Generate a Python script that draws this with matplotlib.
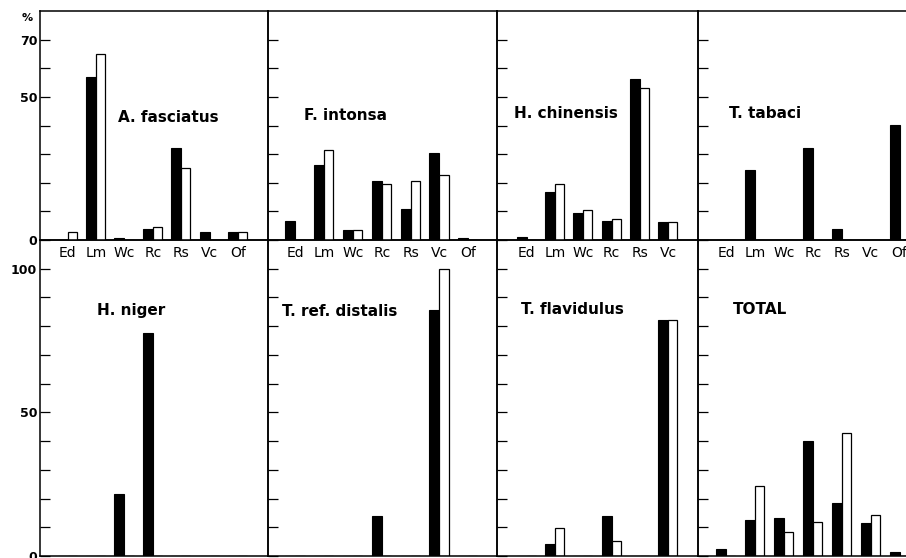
import matplotlib.pyplot as plt

# categories
cats7 = ['Ed', 'Lm', 'Wc', 'Rc', 'Rs', 'Vc', 'Of']
cats6 = cats7[:6]

# top row (%, 0-80)
fasciatus_black = [0, 56.9, 0.8, 3.9, 32.2, 2.7, 2.7]
fasciatus_white = [2.7, 65.0, 0, 4.6, 25.0, 0, 2.7]
intonsa_black = [6.5, 26.1, 3.5, 20.6, 10.7, 30.5, 0.7]
intonsa_white = [0, 31.3, 3.5, 19.6, 20.7, 22.6, 0]
chinensis_black = [1.2, 16.7, 9.5, 6.5, 56.3, 6.4]
chinensis_white = [0, 19.7, 10.4, 7.4, 53.2, 6.2]
tabaci_black = [0, 24.4, 0, 32.2, 3.8, 0, 40.1]
tabaci_white = [0, 0, 0, 0, 0, 0, 0]

# bottom row (%, 0-110)
niger_black = [0, 0, 21.6, 77.7, 0, 0, 0]
niger_white = [0, 0, 0, 0, 0, 0, 0]
distalis_black = [0, 0, 0, 14.0, 0, 85.8, 0]
distalis_white = [0, 0, 0, 0, 0, 100, 0]
flavidulus_black = [0, 4.1, 0, 14.0, 0, 82.0]
flavidulus_white = [0, 9.7, 0, 5.2, 0, 82.3]
total_black = [2.4, 12.6, 13.1, 40.1, 18.4, 11.4, 1.5]
total_white = [0, 24.2, 8.3, 11.7, 42.8, 14.3, 0]

W, H = 906, 558
fig = plt.figure(figsize=(W / 100, H / 100), dpi=100)

# column geometry in pixels: left, width, xlim
cols = [(40, 228, (-0.97, 7.05)),
        (268, 229, (-0.95, 7.0)),
        (497, 201, (-1.05, 6.05)),
        (698, 232, (-0.97, 7.05))]
rows = [(11, 240, 80), (240, 556, 110)]  # top px, bottom px, ymax

panels = [
    [(cats7, fasciatus_black, fasciatus_white, 'A. fasciatus', (118, 117)),
     (cats7, intonsa_black, intonsa_white, 'F. intonsa', (304, 116)),
     (cats6, chinensis_black, chinensis_white, 'H. chinensis', (514, 113)),
     (cats7, tabaci_black, tabaci_white, 'T. tabaci', (729, 113))],
    [(cats7, niger_black, niger_white, 'H. niger', (97, 311)),
     (cats7, distalis_black, distalis_white, 'T. ref. distalis', (282, 311)),
     (cats6, flavidulus_black, flavidulus_white, 'T. flavidulus', (521, 310)),
     (cats7, total_black, total_white, 'TOTAL', (733, 310))],
]

bw = 0.35
for r, (top, bot, ymax) in enumerate(rows):
    for c, (left, width, xl) in enumerate(cols):
        ax = fig.add_axes([left / W, 1 - bot / H, width / W, (bot - top) / H])
        ax.set_facecolor('none')
        ax.set_zorder(2 - r)
        cats, blk, wht, name, (tx, ty) = panels[r][c]
        x = range(len(cats))
        ax.bar([i - bw for i in x], blk, width=bw, align='edge',
               color='black', edgecolor='black', linewidth=0.8)
        ax.bar([i for i in x], wht, width=bw * 0.92, align='edge',
               color='white', edgecolor='black', linewidth=0.9)
        ax.set_xlim(*xl)
        ax.set_ylim(0, ymax)
        for s in ax.spines.values():
            s.set_linewidth(1.1)
        ax.set_yticks(range(0, ymax, 10))
        ax.tick_params(axis='y', direction='in', length=7, width=0.9,
                       labelsize=9, pad=2)
        if c == 0:
            if r == 0:
                ax.set_yticklabels(['0', '', '', '', '', '50', '', '70'],
                                   fontweight='bold')
            else:
                ax.set_yticklabels(['0', '', '', '', '', '50', '', '', '', '', '100'],
                                   fontweight='bold')
        else:
            ax.set_yticklabels([])
        if r == 0:
            ax.set_xticks(list(x))
            ax.set_xticklabels(cats, fontsize=10)
            ax.tick_params(axis='x', length=0, pad=4)
        else:
            ax.set_xticks([])
        fig.text(tx / W, 1 - ty / H, name, fontsize=11, fontweight='bold',
                 ha='left', va='center')

fig.text(27 / W, 1 - 18 / H, '%', fontsize=8, fontweight='bold',
         ha='center', va='center')

fig.savefig('out.png', dpi=100)
